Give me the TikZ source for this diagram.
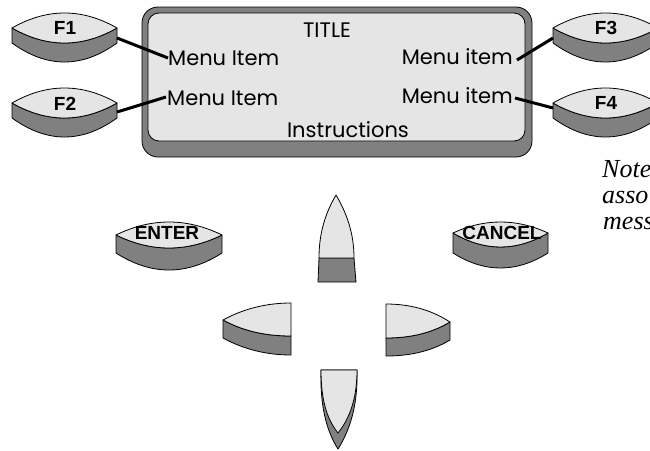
\documentclass[tikz,border=0pt]{standalone}
\usepackage{fontspec}
\newfontfamily\scrfont{Poppins}
\newfontfamily\keyfont{Liberation Sans}
\newfontfamily\notefont{Liberation Serif}
\definecolor{keylightc}{gray}{0.9}
\definecolor{keydarkc}{gray}{0.5}
\tikzset{
  keylight/.style={draw=black,line width=0.8pt,fill=keylightc,line join=round},
  keydark/.style={draw=black,line width=0.8pt,fill=keydarkc,line join=round},
  conn/.style={draw=black,line width=3pt},
  scrtext/.style={inner sep=0pt,font=\scrfont\fontsize{21}{25}\selectfont},
  keylabel/.style={inner sep=0pt,font=\keyfont\bfseries\fontsize{19}{22}\selectfont},
  notetext/.style={inner sep=0pt,anchor=base west,font=\notefont\itshape\fontsize{26}{30}\selectfont},
}
\newcommand\lenskey[7]{%
  \pgfmathsetmacro\lkA{#1+#3/3}%
  \pgfmathsetmacro\lkB{#1+2*#3/3}%
  \pgfmathsetmacro\lkR{#1+#3}%
  \pgfmathsetmacro\lkT{#2-4/3*#4}%
  \pgfmathsetmacro\lkU{#2+4/3*#5}%
  \pgfmathsetmacro\lkD{#2+#6}%
  \pgfmathsetmacro\lkE{#2+#6+4/3*#7}%
  \draw[keydark] (#1,#2) -- (#1,\lkD) .. controls (\lkA,\lkE) and (\lkB,\lkE) .. (\lkR,\lkD) -- (\lkR,#2) .. controls (\lkB,\lkU) and (\lkA,\lkU) .. cycle;
  \draw[keylight] (#1,#2) .. controls (\lkA,\lkT) and (\lkB,\lkT) .. (\lkR,#2) .. controls (\lkB,\lkU) and (\lkA,\lkU) .. cycle;
}
\begin{document}
\begin{tikzpicture}[x=1pt,y=-1pt]
\useasboundingbox (0,0) rectangle (650,450);
\clip (0,0) rectangle (650,450);
% screen
\draw[fill=keydarkc,draw=black,line width=0.8pt,rounded corners=16pt] (142,7) rectangle (532,157);
\draw[fill=keylightc,draw=black,line width=0.8pt,rounded corners=11pt] (148,13) rectangle (525,141);
\node[scrtext,anchor=base] (title) at (327,37) {TITLE};
\node[scrtext,anchor=base west] (m1) at (168,65) {Menu Item};
\node[scrtext,anchor=base west] (m2) at (167,105) {Menu Item};
\node[scrtext,anchor=base east] (m3) at (513,64) {Menu item};
\node[scrtext,anchor=base east] (m4) at (513,103) {Menu item};
\node[scrtext,anchor=base] (instr) at (348,137) {Instructions};
% function keys
\lenskey{12}{28}{105}{15}{15}{15}{19}
\lenskey{12}{103}{105}{15}{15}{15}{19}
\lenskey{553}{28}{105}{15}{15}{15}{19}
\lenskey{553}{103}{105}{15}{15}{15}{19}
\node[keylabel] (f1) at (65,28) {F1};
\node[keylabel] (f2) at (65,104) {F2};
\node[keylabel] (f3) at (606,28) {F3};
\node[keylabel] (f4) at (606,103) {F4};
% connectors
\coordinate (f1r) at (117,38);
\coordinate (f2r) at (117,112);
\coordinate (f3l) at (553,38);
\coordinate (f4l) at (553,108);
\coordinate (m1e) at (168,58);
\coordinate (m2e) at (166,97);
\coordinate (m3e) at (517,60);
\coordinate (m4e) at (515,98);
\draw[conn] (f1r) -- (m1e);
\draw[conn] (f2r) -- (m2e);
\draw[conn] (f3l) -- (m3e);
\draw[conn] (f4l) -- (m4e);
% enter / cancel
\lenskey{116}{235}{106}{13}{13}{18}{17}
\lenskey{453}{233}{95}{11}{14}{20}{15}
\node[keylabel] (enter) at (167,233) {ENTER};
\node[keylabel] (cancel) at (502,233) {CANCEL};
% up
\draw[keydark] (319,258) -- (354,258) -- (356,282) -- (318,282) -- cycle;
\draw[keylight] (319,258) .. controls (319,232) and (326,212) .. (336,195) .. controls (346,212) and (354,232) .. (354,258) -- cycle;
% left
\draw[keydark] (223,320) -- (223,338) .. controls (245,350) and (268,355) .. (291,355) -- (291,336) .. controls (268,336) and (245,332) .. (223,320) -- cycle;
\draw[keylight] (223,320) .. controls (245,308) and (268,303) .. (291,303) -- (291,336) .. controls (268,336) and (245,332) .. (223,320) -- cycle;
% right
\draw[keydark] (386,338) .. controls (408,338) and (430,334) .. (450,322) -- (450,340) .. controls (430,352) and (408,356) .. (386,356) -- cycle;
\draw[keylight] (386,304) .. controls (408,304) and (430,309) .. (450,322) .. controls (430,334) and (408,338) .. (386,338) -- cycle;
% down
\draw[keydark] (321,370) -- (357,370) .. controls (358,405) and (350,430) .. (338,449) .. controls (326,430) and (320,405) .. (321,370) -- cycle;
\draw[keylight] (321,370) -- (357,370) .. controls (357,398) and (350,418) .. (338,433) .. controls (326,418) and (321,398) .. (321,370) -- cycle;
% note
\node[notetext] (n1) at (602,177) {Note};
\node[notetext] (n2) at (602,203) {asso};
\node[notetext] (n3) at (603,229) {mess};
\end{tikzpicture}
\end{document}
